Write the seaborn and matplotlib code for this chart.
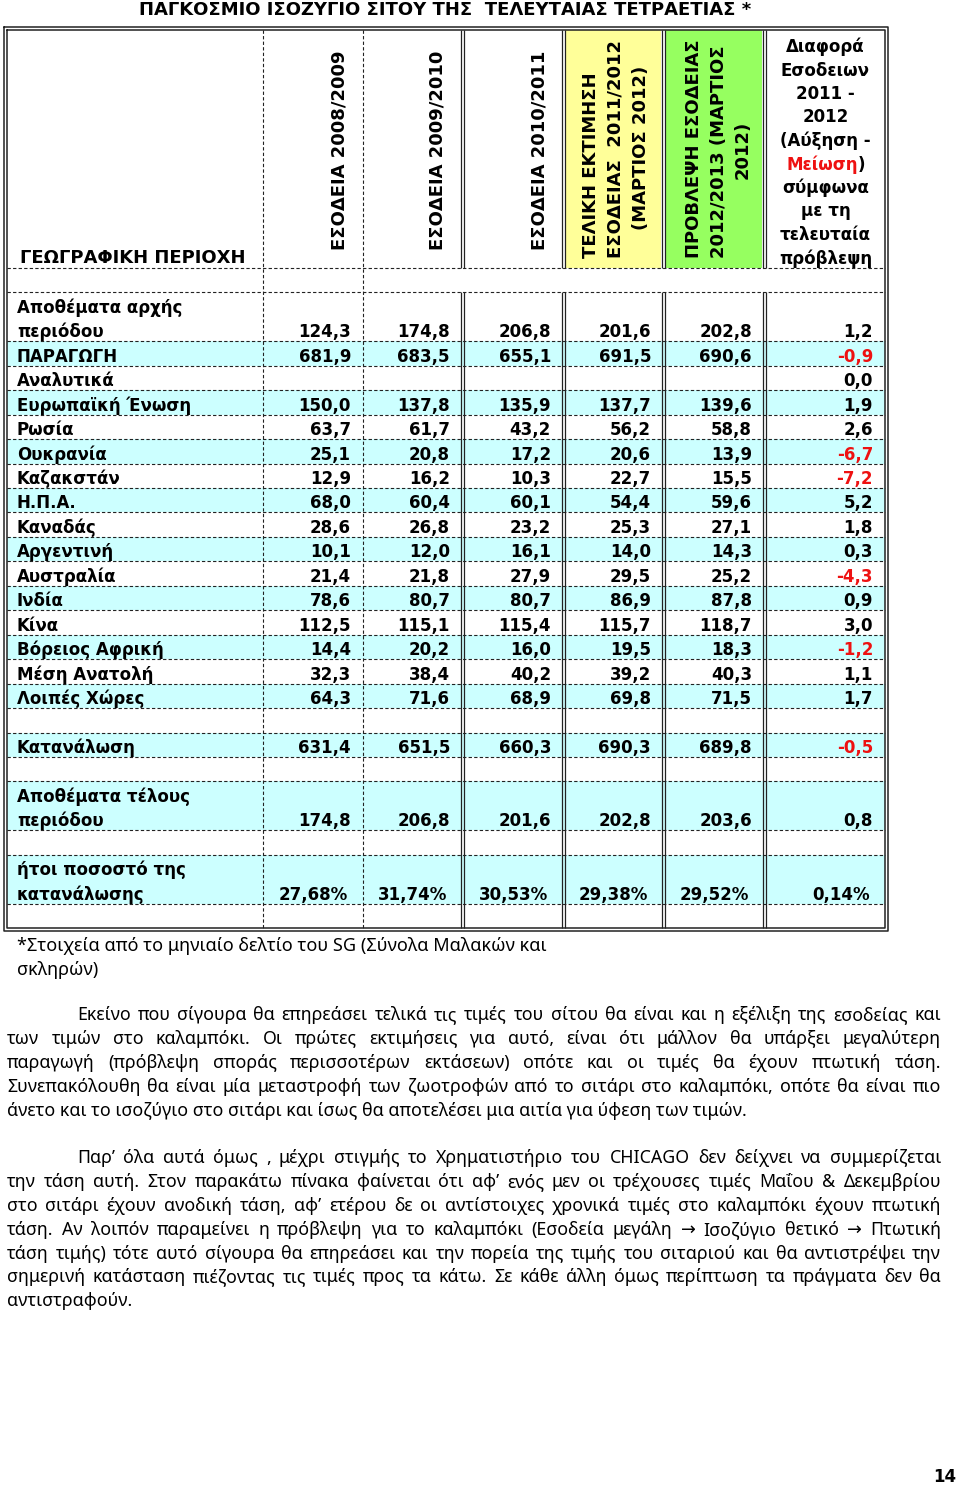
import matplotlib
matplotlib.use("Agg")
import matplotlib.pyplot as plt
import seaborn as sns
import pandas as pd

# ------------------------------------------------------------
# Content
# ------------------------------------------------------------
title = "ΠΑΓΚΟΣΜΙΟ ΙΣΟΖΥΓΙΟ ΣΙΤΟΥ ΤΗΣ  ΤΕΛΕΥΤΑΙΑΣ ΤΕΤΡΑΕΤΙΑΣ *"
region_header = "ΓΕΩΓΡΑΦΙΚΗ ΠΕΡΙΟΧΗ"
season_headers = [
    ["ΕΣΟΔΕΙΑ 2008/2009"],
    ["ΕΣΟΔΕΙΑ 2009/2010"],
    ["ΕΣΟΔΕΙΑ 2010/2011"],
    ["ΤΕΛΙΚΗ ΕΚΤΙΜΗΣΗ", "ΕΣΟΔΕΙΑΣ  2011/2012", "(ΜΑΡΤΙΟΣ 2012)"],
    ["ΠΡΟΒΛΕΨΗ ΕΣΟΔΕΙΑΣ", "2012/2013 (ΜΑΡΤΙΟΣ", "2012)"],
]
diff_header = ["Διαφορά", "Εσοδειων", "2011 -", "2012", "(Αύξηση -", "Μείωση)",
               "σύμφωνα", "με τη", "τελευταία", "πρόβλεψη"]

row_labels = [
    "Αποθέματα αρχής\nπεριόδου", "ΠΑΡΑΓΩΓΗ", "Αναλυτικά", "Ευρωπαϊκή Ένωση",
    "Ρωσία", "Ουκρανία", "Καζακστάν", "Η.Π.Α.", "Καναδάς", "Αργεντινή",
    "Αυστραλία", "Ινδία", "Κίνα", "Βόρειος Αφρική", "Μέση Ανατολή",
    "Λοιπές Χώρες", "Κατανάλωση", "Αποθέματα τέλους\nπεριόδου",
    "ήτοι ποσοστό της\nκατανάλωσης",
]
season_2008_09 = [124.3, 681.9, None, 150.0, 63.7, 25.1, 12.9, 68.0, 28.6, 10.1,
                  21.4, 78.6, 112.5, 14.4, 32.3, 64.3, 631.4, 174.8, 27.68]
season_2009_10 = [174.8, 683.5, None, 137.8, 61.7, 20.8, 16.2, 60.4, 26.8, 12.0,
                  21.8, 80.7, 115.1, 20.2, 38.4, 71.6, 651.5, 206.8, 31.74]
season_2010_11 = [206.8, 655.1, None, 135.9, 43.2, 17.2, 10.3, 60.1, 23.2, 16.1,
                  27.9, 80.7, 115.4, 16.0, 40.2, 68.9, 660.3, 201.6, 30.53]
season_2011_12 = [201.6, 691.5, None, 137.7, 56.2, 20.6, 22.7, 54.4, 25.3, 14.0,
                  29.5, 86.9, 115.7, 19.5, 39.2, 69.8, 690.3, 202.8, 29.38]
season_2012_13 = [202.8, 690.6, None, 139.6, 58.8, 13.9, 15.5, 59.6, 27.1, 14.3,
                  25.2, 87.8, 118.7, 18.3, 40.3, 71.5, 689.8, 203.6, 29.52]
season_diff = [1.2, -0.9, 0.0, 1.9, 2.6, -6.7, -7.2, 5.2, 1.8, 0.3,
               -4.3, 0.9, 3.0, -1.2, 1.1, 1.7, -0.5, 0.8, 0.14]
row_is_percent = [False] * 18 + [True]
row_shaded = [False, True, False, True, False, True, False, True, False, True,
              False, True, False, True, False, True, True, True, True]
gap_before = [True] + [False] * 15 + [True, True, True]

footnote = ["*Στοιχεία από το μηνιαίο δελτίο του SG (Σύνολα Μαλακών και", "σκληρών)"]

paragraph_1 = [
    "Εκείνο που σίγουρα θα επηρεάσει τελικά τις τιμές του σίτου θα είναι και η εξέλιξη της εσοδείας και",
    "των τιμών στο καλαμπόκι. Οι πρώτες εκτιμήσεις για αυτό, είναι ότι μάλλον θα υπάρξει μεγαλύτερη",
    "παραγωγή (πρόβλεψη σποράς περισσοτέρων εκτάσεων) οπότε και οι τιμές θα έχουν πτωτική τάση.",
    "Συνεπακόλουθη θα είναι μία μεταστροφή των ζωοτροφών από το σιτάρι στο καλαμπόκι, οπότε θα είναι πιο",
    "άνετο και το ισοζύγιο στο σιτάρι και ίσως θα αποτελέσει μια αιτία για ύφεση των τιμών.",
]
paragraph_2 = [
    "Παρ’ όλα αυτά όμως , μέχρι στιγμής το Χρηματιστήριο του CHICAGO δεν δείχνει να συμμερίζεται",
    "την τάση αυτή. Στον παρακάτω πίνακα φαίνεται ότι αφ’ ενός μεν οι τρέχουσες τιμές Μαΐου & Δεκεμβρίου",
    "στο σιτάρι έχουν ανοδική τάση, αφ’ ετέρου δε οι αντίστοιχες χρονικά τιμές στο καλαμπόκι έχουν πτωτική",
    "τάση. Αν λοιπόν παραμείνει η πρόβλεψη για το καλαμπόκι (Εσοδεία μεγάλη → Ισοζύγιο θετικό → Πτωτική",
    "τάση τιμής) τότε αυτό σίγουρα θα επηρεάσει και την πορεία της τιμής του σιταριού και θα αντιστρέψει την",
    "σημερινή κατάσταση πιέζοντας τις τιμές προς τα κάτω. Σε κάθε άλλη όμως περίπτωση τα πράγματα  δεν θα",
    "αντιστραφούν.",
]
page_number = "14"

# ------------------------------------------------------------
# Layout / style
# ------------------------------------------------------------
CYAN = "#ccffff"
YELLOW = "#ffff99"
GREEN = "#96ff60"
RED = "#ee1111"
LINE = "#222222"
UNIT = 24.45
COL_X = [7, 263, 363, 462, 563, 663, 764, 885]
TOP, HEADER_BOTTOM = 30, 268

sns.set_theme(style="white")
plt.rcParams["font.family"] = ["DejaVu Sans"]
BOLD = dict(fontsize=12, fontweight="bold", color="black")
ROT = dict(fontsize=13, fontweight="bold", color="black")
BODY_FAMILY = ["Noto Sans", "DejaVu Sans"]

df = pd.DataFrame({
    "label": row_labels,
    "s0809": season_2008_09, "s0910": season_2009_10, "s1011": season_2010_11,
    "s1112": season_2011_12, "s1213": season_2012_13, "diff": season_diff,
    "pct": row_is_percent, "shaded": row_shaded, "gap": gap_before,
})
value_cols = ["s0809", "s0910", "s1011", "s1112", "s1213", "diff"]

fig = plt.figure(figsize=(9.6, 14.85), dpi=100, facecolor="white")
ax = fig.add_axes([0, 0, 1, 1])
ax.set_xlim(0, 960)
ax.set_ylim(1485, 0)
ax.axis("off")
renderer = fig.canvas.get_renderer()


def text_width(s, **kw):
    t = ax.text(0, 0, s, **kw)
    w = t.get_window_extent(renderer).width
    t.remove()
    return w


def fmt(v, pct):
    if v is None or pd.isna(v):
        return ""
    s = f"{v:.2f}%" if pct else f"{v:.1f}"
    return s.replace(".", ",")


# ------------------------------------------------------------
# Row slots
# ------------------------------------------------------------
slots = []
y = HEADER_BOTTOM
for i, row in df.iterrows():
    if row["gap"]:
        slots.append((y, y + UNIT, None))
        y += UNIT
    h = (row["label"].count("\n") + 1) * UNIT
    slots.append((y, y + h, i))
    y += h
slots.append((y, y + UNIT, None))
BOTTOM = y + UNIT

# backgrounds
ax.fill_between([COL_X[4] + 2, COL_X[5] - 2], TOP, HEADER_BOTTOM, color=YELLOW, lw=0)
ax.fill_between([COL_X[5] + 2, COL_X[6] - 2], TOP, HEADER_BOTTOM, color=GREEN, lw=0)
for top, bot, i in slots:
    if i is not None and df.loc[i, "shaded"]:
        ax.fill_between([COL_X[0], COL_X[-1]], top, bot, color=CYAN, lw=0)

# grid lines
dash = (0, (3, 2))
ax.hlines([HEADER_BOTTOM] + [b for _, b, _ in slots[:-1]], COL_X[0], COL_X[-1],
          colors=LINE, lw=0.8, linestyles=dash)
ax.vlines(COL_X[1:3], TOP, BOTTOM, colors=LINE, lw=0.8, linestyles=dash)
for x in COL_X[3:7]:
    for seg in [(TOP, HEADER_BOTTOM), (HEADER_BOTTOM + UNIT, BOTTOM)]:
        ax.vlines([x - 1.5, x + 1.5], *seg, colors=LINE, lw=0.9)
for d in (0, 3):
    x0, x1, y0, y1 = COL_X[0] - 3 + d, COL_X[-1] + 3 - d, TOP - 3 + d, BOTTOM + 3 - d
    ax.plot([x0, x1, x1, x0, x0], [y0, y0, y1, y1, y0], color=LINE, lw=1.1)

# ------------------------------------------------------------
# Header
# ------------------------------------------------------------
ax.text(445, 10, title, ha="center", va="center", **{**BOLD, "fontsize": 13})
ax.text(20, 263, region_header, ha="left", va="baseline", **{**BOLD, "fontsize": 13})

header_x = [[340], [438], [540], [591, 616, 641], [694, 719, 743]]
header_bottom = [[250], [250], [250], [258, 258, 230], [258, 258, None]]
for lines, xs, bs in zip(season_headers, header_x, header_bottom):
    for txt, x, b in zip(lines, xs, bs):
        if b is None:
            ax.text(x, 150, txt, rotation=90, ha="center", va="center", **ROT)
        else:
            ax.text(x, b, txt, rotation=90, ha="center", va="bottom", **ROT)

cx = (COL_X[6] + COL_X[7]) / 2 + 1
for k, line in enumerate(diff_header):
    yb = 52 + 23.5 * k
    if line.startswith("Μείωση"):
        w = text_width(line, **BOLD)
        left = cx - w / 2
        ax.text(left, yb, "Μείωση", ha="left", va="baseline", **{**BOLD, "color": RED})
        ax.text(left + text_width("Μείωση", **BOLD), yb, ")", ha="left", va="baseline", **BOLD)
    else:
        ax.text(cx, yb, line, ha="center", va="baseline", **BOLD)

# ------------------------------------------------------------
# Body rows
# ------------------------------------------------------------
for top, bot, i in slots:
    if i is None:
        continue
    row = df.loc[i]
    lines = row["label"].split("\n")
    for k, line in enumerate(lines):
        ax.text(17, top + (k + 1) * UNIT - 4, line, ha="left", va="baseline", **BOLD)
    pad = 15 if row["pct"] else 12
    for j, col in enumerate(value_cols):
        s = fmt(row[col], row["pct"])
        color = RED if (col == "diff" and row[col] < 0) else "black"
        ax.text(COL_X[j + 2] - pad if j < 5 else COL_X[-1] - pad, bot - 4, s,
                ha="right", va="baseline", **{**BOLD, "color": color})

# ------------------------------------------------------------
# Footnote and paragraphs
# ------------------------------------------------------------
for k, line in enumerate(footnote):
    ax.text(17, 951 + 24 * k, line, ha="left", va="baseline",
            fontsize=13, family=BODY_FAMILY, color="black")

LEFT, INDENT, RIGHT = 7, 77, 941

# one font size for both paragraphs, as large as the tightest justified line allows
base = 12.8
ratios = []
for par in (paragraph_1, paragraph_2):
    for k, line in enumerate(par[:-1]):
        avail = RIGHT - (INDENT if k == 0 else LEFT)
        nat = text_width(line, fontsize=base, family=BODY_FAMILY)
        ratios.append(avail / nat)
BODY = dict(fontsize=base * min(1.0, min(ratios) * 0.985), family=BODY_FAMILY, color="black")


def draw_paragraph(lines, first_baseline, step=23.9):
    for k, line in enumerate(lines):
        yb = first_baseline + step * k
        x0 = INDENT if k == 0 else LEFT
        if k == len(lines) - 1:
            ax.text(x0, yb, line, ha="left", va="baseline", **BODY)
            continue
        words = line.split()
        widths = [text_width(w, **BODY) for w in words]
        gap = (RIGHT - x0 - sum(widths)) / (len(words) - 1)
        x = x0
        for w, wd in zip(words, widths):
            ax.text(x, yb, w, ha="left", va="baseline", **BODY)
            x += wd + gap


draw_paragraph(paragraph_1, 1020)
draw_paragraph(paragraph_2, 1163)

ax.text(945, 1477, page_number, ha="center", va="center", **BOLD)

fig.savefig("out.png", dpi=100, facecolor="white")
